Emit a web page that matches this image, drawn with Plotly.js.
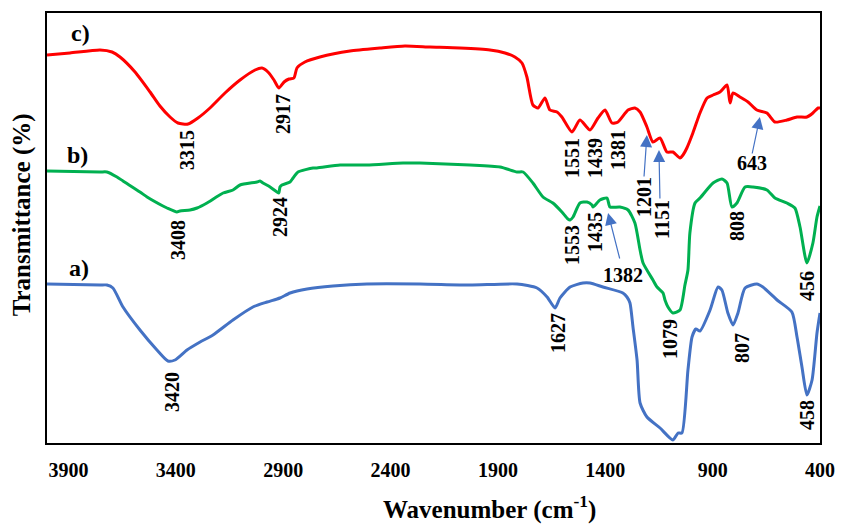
<!DOCTYPE html>
<html>
<head>
<meta charset="utf-8">
<script src="https://cdn.plot.ly/plotly-3.0.1.min.js"></script>
<style>html,body{margin:0;padding:0;background:#fff;}#chart{width:843px;height:524px;}</style>
</head>
<body>
<div id="chart"></div>
<script>
// Wavenumber (cm-1) and relative transmittance (arbitrary, offset units)
const wnC = [4000,3893,3753,3697,3660,3590,3520,3474,3427,3390,3343,3297,3241,3171,3101,3031,2999,2971,2943,2920,2896,2873,2850,2836,2799,2729,2589,2449,2333,2216,2077,1937,1867,1821,1788,1765,1737,1713,1681,1658,1625,1602,1555,1518,1471,1434,1401,1369,1341,1294,1262,1238,1206,1178,1145,1113,1085,1052,1038,1020,992,959,926,898,866,833,819,805,773,735,694,647,610,554,507,461,433,409,400];
const tC  = [388,390,393,391,386,371,351,337,326,320,319,325,335,350,363,373,375,371,363,355,361,364,365,375,381,386,392,395,397,396,395,393,390,386,380,366,338,335,345,333,331,326,311,323,313,325,333,320,321,333,335,331,316,301,305,291,291,285,288,295,310,330,345,348,351,358,340,350,346,341,333,330,321,323,326,326,330,335,335];

const wnB = [4000,3753,3721,3674,3646,3567,3534,3460,3441,3395,3381,3334,3301,3255,3180,3134,3101,3022,3008,2994,2961,2929,2920,2915,2906,2868,2854,2831,2761,2743,2635,2510,2342,2263,2030,1890,1811,1783,1737,1690,1644,1602,1574,1564,1550,1518,1485,1462,1457,1425,1392,1378,1332,1294,1262,1238,1224,1178,1159,1131,1122,1108,1085,1052,1029,1015,1006,982,959,898,857,833,810,787,749,712,647,610,554,517,493,461,433,414,400];
const tB  = [272,271,271,266,262,251,246,237,235,231,232,233,235,240,250,253,258,261,262,260,256,251,250,256,258,261,265,271,275,275,278,278,280,280,278,276,271,271,260,246,240,231,224,223,226,240,241,238,236,243,245,236,236,233,220,193,180,163,156,150,143,136,130,133,158,173,210,240,245,260,264,260,236,240,256,256,253,245,240,235,216,180,200,226,237];

const wnA = [4000,3753,3721,3693,3646,3567,3488,3437,3404,3348,3287,3227,3134,3041,2975,2915,2868,2789,2668,2510,2263,2030,1811,1718,1671,1634,1611,1564,1504,1471,1411,1318,1299,1285,1271,1252,1238,1206,1145,1085,1061,1043,1015,996,978,959,912,875,857,829,805,782,749,694,666,600,531,507,484,461,437,414,400];
const tA  = [159,158,158,155,136,113,93,82,83,93,101,108,123,136,141,145,150,154,157,159,159,158,159,155,146,135,145,156,160,160,156,150,146,140,116,83,40,26,15,3,10,10,73,106,114,112,133,156,153,130,118,130,155,159,156,143,131,106,76,48,63,110,130];

const sampleNames = ['a)','b)','c)'];
const peaksA = ['3420','1627','1079','807','458'];
const peaksB = ['3408','2924','1553','1435','1382','808','456'];
const peaksC = ['3315','2917','1551','1439','1381','1201','1151','643'];
const xTicks = [3900,3400,2900,2400,1900,1400,900,400];

const serif = 'Liberation Serif, Times New Roman, serif';
const lab = {family: serif, size: 20, color: '#000', weight: 'bold'};
const arrowBlue = '#4472C4';

const traces = [
  {x: wnC, y: tC, mode: 'lines', line: {color: '#FF0000', width: 3, shape: 'spline', smoothing: 0.6}, hoverinfo: 'skip'},
  {x: wnB, y: tB, mode: 'lines', line: {color: '#00B050', width: 3, shape: 'spline', smoothing: 0.6}, hoverinfo: 'skip'},
  {x: wnA, y: tA, mode: 'lines', line: {color: '#4472C4', width: 3, shape: 'spline', smoothing: 0.6}, hoverinfo: 'skip'}
];

function rot(text, x, y) {
  return {text: '<b>' + text + '</b>', x: x, y: y, xref: 'x', yref: 'y', showarrow: false, textangle: -90, font: lab, xanchor: 'center', yanchor: 'middle'};
}
function hor(text, x, y, size) {
  return {text: '<b>' + text + '</b>', x: x, y: y, xref: 'x', yref: 'y', showarrow: false, font: Object.assign({}, lab, {size: size || 20}), xanchor: 'center', yanchor: 'middle'};
}
function arr(x, y, ax, ay) {
  return {text: '', x: x, y: y, xref: 'x', yref: 'y', showarrow: true, arrowhead: 2, arrowsize: 2, arrowwidth: 1.2, arrowcolor: arrowBlue, ax: ax, ay: ay};
}

const annotations = [
  hor(sampleNames[2], 3846, 410, 24),
  hor(sampleNames[1], 3860, 288, 24),
  hor(sampleNames[0], 3851, 175, 24),
  rot(peaksC[0], 3348, 293),
  rot(peaksC[1], 2901, 329),
  rot(peaksC[2], 1555, 285),
  rot(peaksC[3], 1448, 285),
  rot(peaksC[4], 1341, 293),
  rot(peaksC[5], 1220, 246),
  rot(peaksC[6], 1136, 224),
  hor(peaksC[7], 717, 280),
  rot(peaksB[0], 3390, 203),
  rot(peaksB[1], 2915, 226),
  rot(peaksB[2], 1555, 198),
  rot(peaksB[3], 1448, 211),
  hor(peaksB[4], 1318, 168),
  rot(peaksB[5], 787, 217),
  rot(peaksB[6], 461, 157),
  rot(peaksA[0], 3418, 51),
  rot(peaksA[1], 1620, 110),
  rot(peaksA[2], 1099, 104),
  rot(peaksA[3], 763, 95),
  rot(peaksA[4], 461, 28),
  arr(1206, 308, -3, 43),
  arr(1150, 293, 1, 50),
  arr(680, 326, -8, 38),
  arr(1387, 230, 12, 47),
  // axis titles
  {text: '<b>Wavenumber (cm<sup>-1</sup>)</b>', xref: 'paper', yref: 'paper', x: 0.573, y: -0.149, showarrow: false,
   xanchor: 'center', yanchor: 'middle', font: {family: serif, size: 25, color: '#000'}},
  {text: '<b>Transmittance (%)</b>', xref: 'paper', yref: 'paper', x: -0.032, y: 0.53, showarrow: false, textangle: -90,
   xanchor: 'center', yanchor: 'middle', font: {family: serif, size: 25, color: '#000'}}
];

const layout = {
  width: 843, height: 524,
  margin: {l: 47, r: 23, t: 13, b: 81},
  paper_bgcolor: '#fff', plot_bgcolor: '#fff',
  showlegend: false,
  xaxis: {
    range: [4000, 400], tickvals: xTicks, ticktext: xTicks.map(String),
    showgrid: false, zeroline: false, showline: true, mirror: true, linecolor: '#000', linewidth: 2,
    ticks: '', ticklabelstandoff: 8,
    tickfont: {family: serif, size: 20, color: '#000', weight: 'bold'}
  },
  yaxis: {
    range: [0, 430], showticklabels: false, showgrid: false, zeroline: false,
    showline: true, mirror: true, linecolor: '#000', linewidth: 2, ticks: ''
  },
  annotations: annotations
};

Plotly.newPlot('chart', traces, layout, {displayModeBar: false, staticPlot: true});
</script>
</body>
</html>
